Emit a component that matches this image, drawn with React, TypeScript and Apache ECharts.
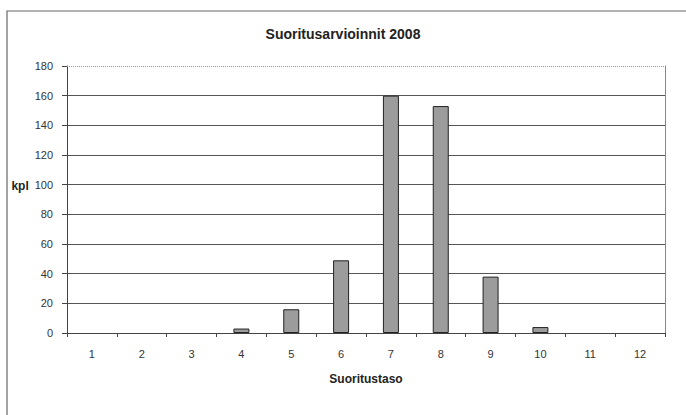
import React, { useEffect, useRef } from "react";
import * as echarts from "echarts";

const categories = ["1", "2", "3", "4", "5", "6", "7", "8", "9", "10", "11", "12"];
const counts = [0, 0, 0, 3, 16, 49, 160, 153, 38, 4, 0, 0];
const titleText = "Suoritusarvioinnit 2008";
const xName = "Suoritustaso";
const yName = "kpl";

export default function App() {
  const ref = useRef<HTMLDivElement>(null);
  useEffect(() => {
    const chart = echarts.init(ref.current!, null, { renderer: "svg" });
    const font = "Liberation Sans, Arial, sans-serif";
    const splitColors = ["#555", "#555", "#555", "#555", "#555", "#555", "#555", "#555", "#555", "transparent"];
    chart.setOption({
      animation: false,
      backgroundColor: "#fff",
      textStyle: { fontFamily: font },
      title: {
        text: titleText,
        left: "center",
        top: 22,
        textStyle: { fontSize: 14, fontWeight: "bold", color: "#222", fontFamily: font },
      },
      graphic: [
        {
          type: "rect",
          shape: { x: 7, y: 11, width: 720, height: 430 },
          style: { fill: "none", stroke: "#666", lineWidth: 1.2 },
          silent: true,
        },
      ],
      grid: { left: 67, right: 21, top: 66, bottom: 82 },
      xAxis: {
        type: "category",
        data: categories,
        name: xName,
        nameLocation: "middle",
        nameGap: 40,
        nameTextStyle: { fontSize: 12, fontWeight: "bold", color: "#222" },
        axisLine: { lineStyle: { color: "#444", width: 1 } },
        axisTick: { show: true, length: 4, lineStyle: { color: "#444" } },
        axisLabel: { fontSize: 11, color: "#333", margin: 15 },
      },
      yAxis: [
        {
          type: "value",
          min: 0,
          max: 180,
          interval: 20,
          name: yName,
          nameLocation: "middle",
          nameRotate: 0,
          nameGap: 37,
          nameTextStyle: {
            fontSize: 12,
            fontWeight: "bold",
            color: "#222",
            verticalAlign: "bottom",
            padding: [0, 0, 8, 0],
          },
          axisLine: { show: true, lineStyle: { color: "#444", width: 1 } },
          axisTick: { show: true, length: 5, lineStyle: { color: "#444" } },
          axisLabel: { fontSize: 11, color: "#333", margin: 14 },
          splitLine: { show: true, lineStyle: { color: splitColors, width: 1 } },
        },
        {
          type: "value",
          min: 0,
          max: 180,
          interval: 20,
          position: "right",
          axisLine: { show: true, lineStyle: { color: "#888", width: 1 } },
          axisTick: { show: false },
          axisLabel: { show: false },
          splitLine: { show: false },
        },
      ],
      series: [
        {
          type: "bar",
          data: counts.map((c) => (c === 0 ? "-" : c)),
          barWidth: 16,
          itemStyle: { color: "#9c9c9c", borderColor: "#222", borderWidth: 1 },
          markLine: {
            silent: true,
            symbol: "none",
            label: { show: false },
            lineStyle: { color: "#999", type: "dotted", width: 1 },
            data: [{ yAxis: 180 }],
          },
        },
      ],
    });
    return () => chart.dispose();
  }, []);
  return (
    <div
      ref={ref}
      style={{ position: "absolute", left: 0, top: 0, width: 686, height: 415 }}
    />
  );
}
